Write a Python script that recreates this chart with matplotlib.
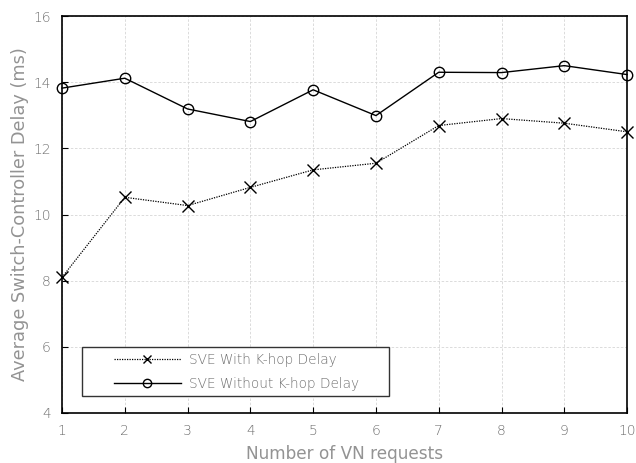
import numpy as np
import matplotlib.pyplot as plt
from matplotlib.patches import Rectangle

plt.rcParams['font.family'] = ['DejaVu Sans']
plt.rcParams['font.weight'] = 'light'

requests = [1, 2, 3, 4, 5, 6, 7, 8, 9, 10]
with_khop = [8.10, 10.52, 10.27, 10.82, 11.35, 11.55, 12.69, 12.90, 12.76, 12.50]
without_khop = [13.82, 14.12, 13.19, 12.81, 13.77, 12.99, 14.30, 14.29, 14.50, 14.23]
yticks = [4, 6, 8, 10, 12, 14, 16]

grey = '#939393'
tick_grey = '#6e6e6e'

fig = plt.figure(figsize=(6.36, 4.63), dpi=100)
ax = fig.add_axes([0.0975, 0.108, 0.8885, 0.8574])

ax.plot(requests, with_khop, color='black', linestyle=(0, (1, 1)), linewidth=0.9,
        marker='x', markersize=8, markeredgewidth=1.0, label='SVE With K-hop Delay',
        clip_on=False, zorder=3)
ax.plot(requests, without_khop, color='black', linestyle='-', linewidth=1.0,
        marker='o', markersize=7.5, markerfacecolor='none', markeredgewidth=1.0,
        label='SVE Without K-hop Delay', clip_on=False, zorder=3)

ax.set_xlim(1, 10)
ax.set_ylim(4, 16)
ax.set_xticks(requests)
ax.set_yticks(yticks)
ax.grid(True, color='#d6d6d6', linestyle=(0, (3, 2)), linewidth=0.6)
ax.set_axisbelow(True)
ax.tick_params(direction='in', length=4, colors='black', labelcolor=tick_grey, labelsize=10, pad=8)
for s in ax.spines.values():
    s.set_color('black')
    s.set_linewidth(1.2)

ax.set_xlabel('Number of VN requests', color=grey, fontsize=12.2, labelpad=5)
ax.set_ylabel('Average Switch-Controller Delay (ms)', color=grey, fontsize=12.8, labelpad=3)

# legend frame drawn separately: the original has wide side padding
ax.add_patch(Rectangle((0.035, 0.044), 0.544, 0.122, transform=ax.transAxes,
                       facecolor='white', edgecolor='#333333', linewidth=1.0, zorder=4))
leg = ax.legend(loc='center left', bbox_to_anchor=(0.092, 0.104), borderaxespad=0,
                handlelength=4.9, frameon=False, fontsize=9.8, borderpad=0,
                labelspacing=0.75, handletextpad=0.6)
leg.set_zorder(5)
for t in leg.get_texts():
    t.set_color(tick_grey)
for h in leg.legend_handles:
    h.set_markersize(6)

fig.savefig('out.png', dpi=100)
